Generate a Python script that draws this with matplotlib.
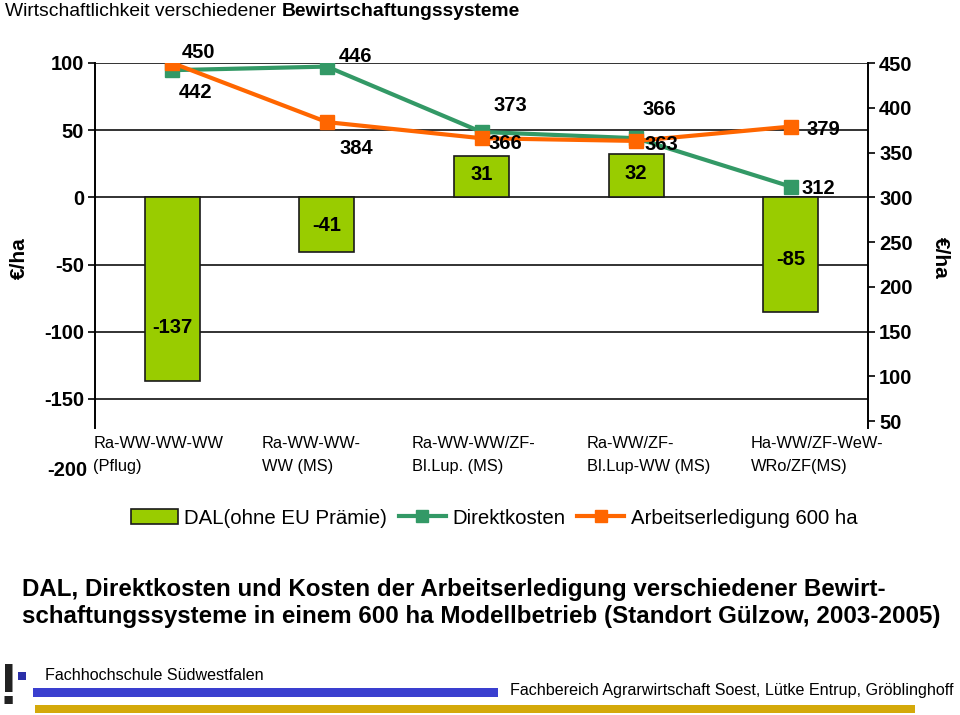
import matplotlib
matplotlib.use("Agg")
import matplotlib.pyplot as plt
from matplotlib.patches import Rectangle
from matplotlib.lines import Line2D
import matplotlib.transforms as mtransforms

plt.rcParams['font.family'] = ['Liberation Sans', 'DejaVu Sans']

# ---- data ----
categories = ["Ra-WW-WW-WW\n(Pflug)", "Ra-WW-WW-\nWW (MS)", "Ra-WW-WW/ZF-\nBl.Lup. (MS)",
              "Ra-WW/ZF-\nBl.Lup-WW (MS)", "Ha-WW/ZF-WeW-\nWRo/ZF(MS)"]
dal = [-137, -41, 31, 32, -85]
direktkosten = [442, 446, 373, 366, 312]
arbeitserledigung = [450, 384, 366, 363, 379]
left_ticks = [-150, -100, -50, 0, 50, 100]
left_bottom_label = -200
right_ticks = [50, 100, 150, 200, 250, 300, 350, 400, 450]

# ---- layout helpers (positions only) ----
cat_label_left = [-0.51, 0.58, 1.55, 2.68, 3.74]
bar_label_y = [-97, -21, 17, 18, -46]
green_off = [(23, -22), (29, 10), (29, 26), (23, 29), (28, -2)]
orange_off = [(26, 11), (29, -26), (24, -5), (25, -4), (33, -3)]

W, H = 960, 715
fig = plt.figure(figsize=(W / 100, H / 100), dpi=100)

def fx(px):
    return px / W

def fy(py):
    return 1 - py / H

AX_L, AX_R, AX_T, AX_B = 95, 868, 63, 466

def axx(px):
    return (px - AX_L) / (AX_R - AX_L)

def axy(py):
    return (AX_B - py) / (AX_B - AX_T)

bar_c = '#99CC00'
green_c = '#339966'
orange_c = '#FF6600'
TICK_FS = 14.5
VAL_FS = 14.5

ax = fig.add_axes([fx(AX_L), fy(AX_B), fx(AX_R) - fx(AX_L), fy(AX_T) - fy(AX_B)])
ax.set_xlim(-0.5, 4.5)
ax.set_ylim(-200, 100)
ax.set_yticks(left_ticks)
ax.set_yticklabels([str(v) for v in left_ticks], fontsize=TICK_FS, fontweight='bold')
ax.set_xticks([])
for s in ['top', 'bottom', 'right']:
    ax.spines[s].set_visible(False)
ax.spines['left'].set_bounds(-172, 100)
ax.spines['left'].set_linewidth(1.4)
ax.tick_params(axis='y', length=5, width=1.2, pad=3)
ax.grid(axis='y', color='#222222', linewidth=1.3)
ax.set_axisbelow(True)
ax.annotate(str(left_bottom_label), (-0.5, left_bottom_label), xytext=(-8, -4),
            textcoords='offset pixels', ha='right', va='center', fontsize=TICK_FS,
            fontweight='bold', annotation_clip=False)

x = list(range(len(categories)))
ax.bar(x, dal, width=0.355, color=bar_c, edgecolor='#1a1a1a', linewidth=1.2, zorder=2)
for i, (v, ly) in enumerate(zip(dal, bar_label_y)):
    ax.text(i, ly, str(v), ha='center', va='center', fontsize=VAL_FS, fontweight='bold', zorder=5)

trans = mtransforms.blended_transform_factory(ax.transData, fig.transFigure)
for i, lab in enumerate(categories):
    ax.text(cat_label_left[i], fy(455), lab, transform=trans, ha='left', va='center',
            fontsize=11.8, linespacing=1.7)

ax.set_ylabel('€/ha', fontsize=15, fontweight='bold', va='center')
ax.yaxis.set_label_coords(axx(19), axy(258))

ax2 = ax.twinx()
ax2.set_ylim(0, 450)
ax2.set_yticks(right_ticks)
ax2.set_yticklabels([str(v) for v in right_ticks], fontsize=TICK_FS, fontweight='bold')
for s in ['top', 'bottom', 'left']:
    ax2.spines[s].set_visible(False)
ax2.spines['right'].set_bounds(42, 450)
ax2.spines['right'].set_linewidth(1.4)
ax2.tick_params(axis='y', length=5, width=1.2, pad=3)
ax2.plot(x, direktkosten, color=green_c, lw=3, marker='s', ms=9.5, zorder=4)
ax2.plot(x, arbeitserledigung, color=orange_c, lw=3, marker='s', ms=9.5, zorder=5)
for i in x:
    ax2.annotate(str(direktkosten[i]), (i, direktkosten[i]), xytext=green_off[i],
                 textcoords='offset pixels', ha='center', va='center', fontsize=VAL_FS,
                 fontweight='bold', zorder=6)
    ax2.annotate(str(arbeitserledigung[i]), (i, arbeitserledigung[i]), xytext=orange_off[i],
                 textcoords='offset pixels', ha='center', va='center', fontsize=VAL_FS,
                 fontweight='bold', zorder=6)
ax2.set_ylabel('€/ha', fontsize=15, fontweight='bold', rotation=270, va='center')
ax2.yaxis.set_label_coords(axx(940), axy(258))

# legend
handles = [Rectangle((0, 0), 1, 1, facecolor=bar_c, edgecolor='#1a1a1a', linewidth=1.2),
           Line2D([], [], color=green_c, lw=3, marker='s', ms=8),
           Line2D([], [], color=orange_c, lw=3, marker='s', ms=8)]
labels = ['DAL(ohne EU Prämie)', 'Direktkosten', 'Arbeitserledigung 600 ha']
fig.legend(handles, labels, loc='center', bbox_to_anchor=(fx(494), fy(518)), ncol=3,
           frameon=False, fontsize=14.7, handlelength=2.3, handletextpad=0.3,
           columnspacing=0.6, handleheight=0.8)

# title
t1 = fig.text(fx(5), fy(12), 'Wirtschaftlichkeit verschiedener ', fontsize=13.9,
              ha='left', va='center')
fig.canvas.draw()
bb = t1.get_window_extent()
fig.text(bb.x1 / W, fy(12), 'Bewirtschaftungssysteme', fontsize=13.9, fontweight='bold',
         ha='left', va='center')

# caption
fig.text(fx(22), fy(603), 'DAL, Direktkosten und Kosten der Arbeitserledigung verschiedener Bewirt-\n'
         'schaftungssysteme in einem 600 ha Modellbetrieb (Standort Gülzow, 2003-2005)',
         fontsize=17.4, fontweight='bold', ha='left', va='center', linespacing=1.17)

# footer
fig.text(fx(8), fy(689), '!', fontsize=42, fontweight='bold', ha='center', va='center',
         color='#222222')
fig.add_artist(Rectangle((fx(18), fy(680)), fx(26) - fx(18), fy(672) - fy(680),
                         transform=fig.transFigure, facecolor='#2B2FA8', edgecolor='none'))
fig.text(fx(45), fy(675), 'Fachhochschule Südwestfalen', fontsize=11.6, ha='left', va='center')
fig.add_artist(Rectangle((fx(33), fy(697)), fx(498) - fx(33), fy(688) - fy(697),
                         transform=fig.transFigure, facecolor='#3A3FCF', edgecolor='none'))
fig.text(fx(510), fy(690), 'Fachbereich Agrarwirtschaft Soest, Lütke Entrup, Gröblinghoff',
         fontsize=11.6, ha='left', va='center')
fig.add_artist(Rectangle((fx(35), fy(713)), fx(915) - fx(35), fy(705) - fy(713),
                         transform=fig.transFigure, facecolor='#D4A90A', edgecolor='none'))

fig.savefig('out.png', dpi=100)
